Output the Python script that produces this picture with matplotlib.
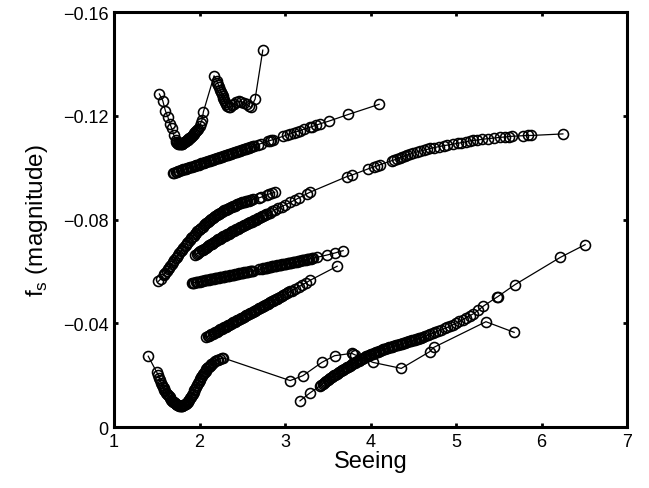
import matplotlib
matplotlib.use("Agg")
import matplotlib.pyplot as plt

plt.rcParams["font.family"] = ["Liberation Sans", "DejaVu Sans"]

# series (seeing, f_s in magnitude)
a_x = [1.53, 1.57, 1.60, 1.63, 1.655, 1.675, 1.70, 1.72, 1.74, 1.76, 1.78, 1.80, 1.82,
       1.84, 1.86, 1.88, 1.90, 1.92, 1.94, 1.96, 1.98, 2.00, 2.015, 2.03, 2.045, 2.17,
       2.20, 2.22, 2.24, 2.26, 2.28, 2.30, 2.32, 2.34, 2.36, 2.38, 2.40, 2.43, 2.46,
       2.49, 2.52, 2.55, 2.58, 2.60, 2.65, 2.74]
a_y = [-0.1284, -0.1258, -0.1220, -0.1195, -0.1168, -0.1151, -0.1125, -0.1105, -0.1095,
       -0.1090, -0.1090, -0.1093, -0.1097, -0.1103, -0.1108, -0.1113, -0.1120, -0.1127,
       -0.1135, -0.1142, -0.1150, -0.1160, -0.1172, -0.1185, -0.1215, -0.1354, -0.1335,
       -0.1320, -0.1300, -0.1285, -0.1268, -0.1252, -0.1238, -0.1232, -0.1234, -0.1240,
       -0.1246, -0.1252, -0.1256, -0.1254, -0.1250, -0.1245, -0.1236, -0.1232, -0.1264,
       -0.1453]
# extra samples where the markers pile up into a solid band
a_x2 = [1.73, 1.75, 1.77, 1.79, 1.81, 1.83, 1.85, 1.87, 1.89, 1.91, 1.93, 1.95, 1.97,
        2.21, 2.23, 2.25, 2.27, 2.29, 2.31]
a_y2 = [-0.1100, -0.1092, -0.1090, -0.1091, -0.1095, -0.1100, -0.1105, -0.1110, -0.1116,
        -0.1123, -0.1131, -0.1138, -0.1146, -0.1328, -0.1310, -0.1292, -0.1276, -0.1260,
        -0.1245]

b_x = [1.69, 1.72, 1.75, 1.78, 1.81, 1.84, 1.87, 1.90, 1.93, 1.96, 1.99, 2.02, 2.05,
       2.08, 2.11, 2.14, 2.17, 2.20, 2.23, 2.26, 2.29, 2.32, 2.35, 2.38, 2.41, 2.44,
       2.47, 2.50, 2.53, 2.56, 2.59, 2.62, 2.64, 2.68, 2.72, 2.80, 2.82, 2.84, 2.86,
       2.98, 3.02, 3.06, 3.10, 3.14, 3.18, 3.22, 3.29, 3.31, 3.36, 3.41, 3.51, 3.74, 4.10]
b_y = [-0.0979, -0.0983, -0.0986, -0.0989, -0.0993, -0.0996, -0.0999, -0.1003, -0.1006,
       -0.1009, -0.1012, -0.1016, -0.1019, -0.1022, -0.1026, -0.1029, -0.1032, -0.1036,
       -0.1039, -0.1042, -0.1045, -0.1049, -0.1052, -0.1055, -0.1059, -0.1062, -0.1065,
       -0.1069, -0.1072, -0.1075, -0.1078, -0.1082, -0.1084, -0.1088, -0.1093, -0.1102,
       -0.1104, -0.1106, -0.1108, -0.1121, -0.1126, -0.1130, -0.1135, -0.1139, -0.1143,
       -0.1148, -0.1155, -0.1158, -0.1163, -0.1169, -0.1179, -0.1205, -0.1244]
b_x2 = [1.705, 1.735, 1.765, 1.795, 1.825, 1.855, 1.885, 1.915, 1.945, 1.975, 2.005,
        2.035, 2.065, 2.095, 2.125, 2.155, 2.185, 2.215, 2.245, 2.275, 2.305, 2.335,
        2.365, 2.395, 2.425, 2.455, 2.485, 2.515, 2.545, 2.575, 2.605]
b_y2 = [-0.0981, -0.0984, -0.0988, -0.0991, -0.0994, -0.0998, -0.1001, -0.1004, -0.1007,
        -0.1011, -0.1014, -0.1017, -0.1021, -0.1024, -0.1027, -0.1031, -0.1034, -0.1037,
        -0.1040, -0.1044, -0.1047, -0.1050, -0.1054, -0.1057, -0.1060, -0.1064, -0.1067,
        -0.1070, -0.1073, -0.1077, -0.1080]

c_x = [1.52, 1.55, 1.58, 1.60, 1.63, 1.66, 1.69, 1.72, 1.75, 1.78, 1.81, 1.84, 1.87,
       1.90, 1.93, 1.96, 1.99, 2.02, 2.05, 2.08, 2.11, 2.14, 2.17, 2.20, 2.23, 2.26,
       2.29, 2.32, 2.35, 2.38, 2.41, 2.44, 2.47, 2.50, 2.53, 2.56, 2.59, 2.62, 2.69,
       2.72, 2.79, 2.81, 2.85, 2.88]
c_y = [-0.0562, -0.0572, -0.0585, -0.0595, -0.0608, -0.0622, -0.0636, -0.0650, -0.0664,
       -0.0677, -0.0690, -0.0703, -0.0715, -0.0727, -0.0738, -0.0749, -0.0759, -0.0769,
       -0.0778, -0.0787, -0.0795, -0.0803, -0.0810, -0.0817, -0.0823, -0.0829, -0.0835,
       -0.0840, -0.0845, -0.0850, -0.0854, -0.0858, -0.0862, -0.0866, -0.0869, -0.0872,
       -0.0875, -0.0878, -0.0883, -0.0886, -0.0896, -0.0898, -0.0902, -0.0905]
c_x2 = [1.59, 1.615, 1.645, 1.675, 1.705, 1.735, 1.765, 1.795, 1.825, 1.855, 1.885,
        1.915, 1.945, 1.975, 2.005, 2.035, 2.065, 2.095, 2.125, 2.155, 2.185, 2.215,
        2.245, 2.275, 2.305, 2.335, 2.365, 2.395, 2.425, 2.455, 2.485, 2.515, 2.545,
        2.575, 2.605]
c_y2 = [-0.0590, -0.0601, -0.0615, -0.0629, -0.0643, -0.0657, -0.0670, -0.0683, -0.0696,
        -0.0709, -0.0721, -0.0732, -0.0743, -0.0754, -0.0764, -0.0773, -0.0782, -0.0791,
        -0.0799, -0.0806, -0.0813, -0.0820, -0.0826, -0.0832, -0.0837, -0.0842, -0.0847,
        -0.0852, -0.0856, -0.0860, -0.0864, -0.0867, -0.0870, -0.0873, -0.0876]

d_x = [1.95, 1.98, 2.01, 2.04, 2.07, 2.10, 2.13, 2.16, 2.19, 2.22, 2.25, 2.28, 2.31,
       2.34, 2.37, 2.40, 2.43, 2.46, 2.49, 2.52, 2.55, 2.58, 2.61, 2.64, 2.67, 2.70,
       2.73, 2.76, 2.79, 2.82, 2.85, 2.88, 2.92, 2.96, 3.00, 3.06, 3.12, 3.16, 3.26,
       3.29, 3.72, 3.78, 3.97, 4.04, 4.08, 4.11, 4.25, 4.28, 4.31, 4.34, 4.37, 4.40,
       4.43, 4.46, 4.50, 4.54, 4.58, 4.62, 4.66, 4.70, 4.74, 4.80, 4.86, 4.90, 4.96,
       5.02, 5.06, 5.12, 5.16, 5.20, 5.24, 5.30, 5.38, 5.44, 5.52, 5.57, 5.62, 5.66,
       5.78, 5.84, 5.88, 6.25]
d_y = [-0.0663, -0.0670, -0.0677, -0.0684, -0.0691, -0.0697, -0.0704, -0.0710, -0.0717,
       -0.0723, -0.0729, -0.0735, -0.0740, -0.0746, -0.0751, -0.0757, -0.0762, -0.0767,
       -0.0772, -0.0777, -0.0782, -0.0787, -0.0792, -0.0797, -0.0802, -0.0807, -0.0812,
       -0.0817, -0.0822, -0.0827, -0.0832, -0.0837, -0.0843, -0.0850, -0.0856, -0.0866,
       -0.0876, -0.0883, -0.0900, -0.0905, -0.0965, -0.0971, -0.0995, -0.1003, -0.1007,
       -0.1011, -0.1027, -0.1030, -0.1034, -0.1038, -0.1042, -0.1045, -0.1049, -0.1052,
       -0.1056, -0.1060, -0.1064, -0.1067, -0.1070, -0.1074, -0.1077, -0.1081, -0.1085,
       -0.1087, -0.1090, -0.1094, -0.1096, -0.1100, -0.1103, -0.1105, -0.1106, -0.1109,
       -0.1112, -0.1114, -0.1117, -0.1118, -0.1120, -0.1121, -0.1123, -0.1124, -0.1124,
       -0.1130]
d_x2 = [1.965, 1.995, 2.025, 2.055, 2.085, 2.115, 2.145, 2.175, 2.205, 2.235, 2.265,
        2.295, 2.325, 2.355, 2.385, 2.415, 2.445, 2.475, 2.505, 2.535, 2.565, 2.595,
        2.625, 2.655, 2.685, 2.715, 2.745, 2.775]
d_y2 = [-0.0667, -0.0674, -0.0681, -0.0688, -0.0694, -0.0701, -0.0707, -0.0714, -0.0720,
        -0.0726, -0.0732, -0.0738, -0.0743, -0.0749, -0.0754, -0.0760, -0.0765, -0.0770,
        -0.0775, -0.0780, -0.0785, -0.0790, -0.0795, -0.0800, -0.0805, -0.0810, -0.0815,
        -0.0820]

e_x = [1.91, 1.94, 1.97, 2.00, 2.03, 2.06, 2.09, 2.12, 2.15, 2.18, 2.21, 2.24, 2.27,
       2.30, 2.33, 2.36, 2.39, 2.42, 2.45, 2.48, 2.51, 2.54, 2.57, 2.60, 2.63, 2.70,
       2.73, 2.76, 2.79, 2.82, 2.85, 2.88, 2.91, 2.94, 2.97, 3.00, 3.03, 3.06, 3.09,
       3.12, 3.15, 3.18, 3.21, 3.24, 3.27, 3.30, 3.33, 3.37, 3.49, 3.585, 3.68]
e_y = [-0.0555, -0.0557, -0.0559, -0.0561, -0.0563, -0.0565, -0.0567, -0.0569, -0.0571,
       -0.0573, -0.0575, -0.0577, -0.0579, -0.0581, -0.0583, -0.0585, -0.0587, -0.0589,
       -0.0591, -0.0593, -0.0595, -0.0597, -0.0599, -0.0601, -0.0603, -0.0608, -0.0611,
       -0.0613, -0.0615, -0.0617, -0.0619, -0.0621, -0.0623, -0.0625, -0.0627, -0.0629,
       -0.0631, -0.0633, -0.0635, -0.0637, -0.0639, -0.0641, -0.0643, -0.0645, -0.0647,
       -0.0649, -0.0651, -0.0654, -0.0663, -0.0671, -0.0680]
e_x2 = [1.925, 1.955, 1.985, 2.015, 2.045, 2.075, 2.105, 2.135, 2.165, 2.195, 2.225,
        2.255, 2.285, 2.315, 2.345, 2.375, 2.405, 2.435, 2.465, 2.495, 2.525, 2.555,
        2.585, 2.615, 2.745, 2.775, 2.805, 2.835, 2.865, 2.895, 2.925, 2.955, 2.985,
        3.015, 3.045, 3.075, 3.105, 3.135, 3.165, 3.195, 3.225, 3.255, 3.285, 3.315]
e_y2 = [-0.0556, -0.0558, -0.0560, -0.0562, -0.0564, -0.0566, -0.0568, -0.0570, -0.0572,
        -0.0574, -0.0576, -0.0578, -0.0580, -0.0582, -0.0584, -0.0586, -0.0588, -0.0590,
        -0.0592, -0.0594, -0.0596, -0.0598, -0.0600, -0.0602, -0.0612, -0.0614, -0.0616,
        -0.0618, -0.0620, -0.0622, -0.0624, -0.0626, -0.0628, -0.0630, -0.0632, -0.0634,
        -0.0636, -0.0638, -0.0640, -0.0642, -0.0644, -0.0646, -0.0648, -0.0650]

f_x = [2.08, 2.11, 2.14, 2.17, 2.20, 2.23, 2.26, 2.29, 2.32, 2.35, 2.38, 2.41, 2.44,
       2.47, 2.50, 2.53, 2.56, 2.59, 2.62, 2.65, 2.68, 2.71, 2.74, 2.77, 2.80, 2.83,
       2.86, 2.89, 2.92, 2.96, 3.00, 3.04, 3.08, 3.12, 3.16, 3.20, 3.25, 3.29, 3.61]
f_y = [-0.0346, -0.0352, -0.0357, -0.0363, -0.0368, -0.0373, -0.0379, -0.0384, -0.0390,
       -0.0395, -0.0400, -0.0406, -0.0411, -0.0417, -0.0422, -0.0427, -0.0433, -0.0438,
       -0.0443, -0.0449, -0.0454, -0.0460, -0.0465, -0.0470, -0.0476, -0.0481, -0.0487,
       -0.0492, -0.0497, -0.0505, -0.0512, -0.0519, -0.0526, -0.0534, -0.0541, -0.0548,
       -0.0557, -0.0565, -0.0620]
f_x2 = [2.095, 2.125, 2.155, 2.185, 2.215, 2.245, 2.275, 2.305, 2.335, 2.365, 2.395,
        2.425, 2.455, 2.485, 2.515, 2.545, 2.575, 2.605, 2.635, 2.665, 2.695, 2.725,
        2.755, 2.785, 2.815, 2.845, 2.875, 2.905, 2.94, 2.98, 3.02, 3.06]
f_y2 = [-0.0349, -0.0355, -0.0360, -0.0366, -0.0371, -0.0376, -0.0382, -0.0387, -0.0393,
        -0.0398, -0.0403, -0.0409, -0.0414, -0.0420, -0.0425, -0.0430, -0.0436, -0.0441,
        -0.0446, -0.0452, -0.0457, -0.0463, -0.0468, -0.0473, -0.0479, -0.0484, -0.0490,
        -0.0495, -0.0501, -0.0509, -0.0516, -0.0523]

g_x = [1.40, 1.50, 1.52, 1.54, 1.56, 1.58, 1.60, 1.62, 1.64, 1.66, 1.68, 1.70, 1.72,
       1.74, 1.76, 1.78, 1.80, 1.82, 1.84, 1.86, 1.88, 1.90, 1.92, 1.94, 1.96, 1.98,
       2.00, 2.02, 2.04, 2.06, 2.08, 2.10, 2.12, 2.14, 2.16, 2.18, 2.20, 2.22, 2.24,
       2.26, 2.28, 3.06, 3.21, 3.43, 3.58, 3.78, 3.80, 3.82, 4.03, 4.36, 4.69, 4.74,
       5.35, 5.68]
g_y = [-0.0273, -0.0211, -0.0200, -0.0180, -0.0163, -0.0150, -0.0138, -0.0128, -0.0119,
       -0.0110, -0.0102, -0.0095, -0.0089, -0.0085, -0.0082, -0.0081, -0.0082, -0.0085,
       -0.0090, -0.0097, -0.0106, -0.0117, -0.0129, -0.0142, -0.0155, -0.0168, -0.0180,
       -0.0192, -0.0203, -0.0213, -0.0222, -0.0230, -0.0237, -0.0243, -0.0248, -0.0253,
       -0.0257, -0.0260, -0.0263, -0.0265, -0.0266, -0.0179, -0.0198, -0.0249, -0.0275,
       -0.0284, -0.0281, -0.0278, -0.0249, -0.0226, -0.0290, -0.0307, -0.0406, -0.0365]
g_x2 = [1.53, 1.55, 1.57, 1.59, 1.61, 1.63, 1.65, 1.67, 1.69, 1.71, 1.73, 1.75, 1.77,
        1.79, 1.81, 1.83, 1.85, 1.87, 1.89, 1.91, 1.93, 1.95, 1.97, 1.99, 2.01, 2.03,
        2.05, 2.07, 2.09, 2.11, 2.13]
g_y2 = [-0.0190, -0.0171, -0.0156, -0.0144, -0.0133, -0.0123, -0.0114, -0.0106, -0.0098,
        -0.0092, -0.0087, -0.0083, -0.0081, -0.0081, -0.0083, -0.0087, -0.0093, -0.0101,
        -0.0111, -0.0123, -0.0135, -0.0148, -0.0161, -0.0174, -0.0186, -0.0197, -0.0208,
        -0.0217, -0.0226, -0.0233, -0.0240]

h_x = [3.175, 3.29, 3.41, 3.44, 3.47, 3.50, 3.53, 3.56, 3.59, 3.62, 3.65, 3.68, 3.71,
       3.74, 3.77, 3.80, 3.83, 3.86, 3.89, 3.92, 3.95, 3.98, 4.01, 4.04, 4.07, 4.10,
       4.13, 4.16, 4.19, 4.22, 4.25, 4.28, 4.31, 4.34, 4.37, 4.40, 4.43, 4.46, 4.49,
       4.52, 4.55, 4.58, 4.61, 4.64, 4.67, 4.70, 4.73, 4.76, 4.79, 4.83, 4.87, 4.90,
       4.93, 4.97, 5.00, 5.04, 5.08, 5.12, 5.16, 5.20, 5.26, 5.32, 5.475, 5.49, 5.69,
       6.22, 6.51]
h_y = [-0.0101, -0.0131, -0.0159, -0.0167, -0.0175, -0.0182, -0.0189, -0.0196, -0.0202,
       -0.0209, -0.0215, -0.0221, -0.0227, -0.0233, -0.0239, -0.0245, -0.0251, -0.0256,
       -0.0262, -0.0267, -0.0272, -0.0277, -0.0281, -0.0285, -0.0289, -0.0293, -0.0297,
       -0.0300, -0.0304, -0.0307, -0.0310, -0.0313, -0.0316, -0.0319, -0.0322, -0.0325,
       -0.0328, -0.0331, -0.0334, -0.0337, -0.0340, -0.0343, -0.0346, -0.0350, -0.0354,
       -0.0358, -0.0362, -0.0366, -0.0370, -0.0375, -0.0380, -0.0384, -0.0389, -0.0395,
       -0.0400, -0.0407, -0.0414, -0.0422, -0.0429, -0.0436, -0.0450, -0.0466, -0.0500,
       -0.0503, -0.0549, -0.0654, -0.0703]
h_x2 = [3.425, 3.455, 3.485, 3.515, 3.545, 3.575, 3.605, 3.635, 3.665, 3.695, 3.725,
        3.755, 3.785, 3.815, 3.845, 3.875, 3.905, 3.935, 3.965, 3.995, 4.025, 4.055,
        4.085, 4.115, 4.145, 4.175, 4.205, 4.235, 4.265, 4.295, 4.325, 4.355, 4.385,
        4.415, 4.445, 4.475, 4.505, 4.535, 4.565, 4.595]
h_y2 = [-0.0163, -0.0171, -0.0178, -0.0186, -0.0192, -0.0199, -0.0206, -0.0212, -0.0218,
        -0.0224, -0.0230, -0.0236, -0.0242, -0.0248, -0.0254, -0.0259, -0.0264, -0.0270,
        -0.0274, -0.0279, -0.0283, -0.0287, -0.0291, -0.0295, -0.0299, -0.0302, -0.0305,
        -0.0309, -0.0312, -0.0315, -0.0318, -0.0321, -0.0324, -0.0327, -0.0330, -0.0333,
        -0.0336, -0.0339, -0.0342, -0.0345]

series = [(a_x, a_y), (b_x, b_y), (c_x, c_y), (d_x, d_y),
          (e_x, e_y), (f_x, f_y), (g_x, g_y), (h_x, h_y)]
extras = [(a_x2, a_y2), (b_x2, b_y2), (c_x2, c_y2), (d_x2, d_y2),
          (e_x2, e_y2), (f_x2, f_y2), (g_x2, g_y2), (h_x2, h_y2)]

xticks = [1, 2, 3, 4, 5, 6, 7]
yticks = [-0.16, -0.12, -0.08, -0.04, 0]
ytick_labels = ["\u22120.16", "\u22120.12", "\u22120.08", "\u22120.04", "0"]

fig = plt.figure(figsize=(6.49, 4.89), dpi=100)
ax = fig.add_axes([0.1757, 0.1247, 0.7904, 0.8487])

mk = dict(marker="o", markersize=7.2, markerfacecolor="none",
          markeredgecolor="black", markeredgewidth=1.15)
for sx, sy in series:
    ax.plot(sx, sy, color="black", linewidth=0.9, **mk)
for sx, sy in extras:
    ax.plot(sx, sy, linestyle="none", **mk)

ax.set_xlim(1, 7)
ax.set_ylim(0, -0.16)
ax.set_xticks(xticks)
ax.set_xticklabels([str(t) for t in xticks])
ax.set_yticks(yticks)
ax.set_yticklabels(ytick_labels)

for sp in ax.spines.values():
    sp.set_linewidth(2.2)
ax.tick_params(direction="in", top=True, right=True, length=3, width=2,
               labelsize=13, pad=4)

ax.set_xlabel("Seeing", fontsize=17, labelpad=0)
ax.set_ylabel("f$_\\mathregular{s}$ (magnitude)", fontsize=17.5, labelpad=9)

fig.savefig("out.png", dpi=100)
